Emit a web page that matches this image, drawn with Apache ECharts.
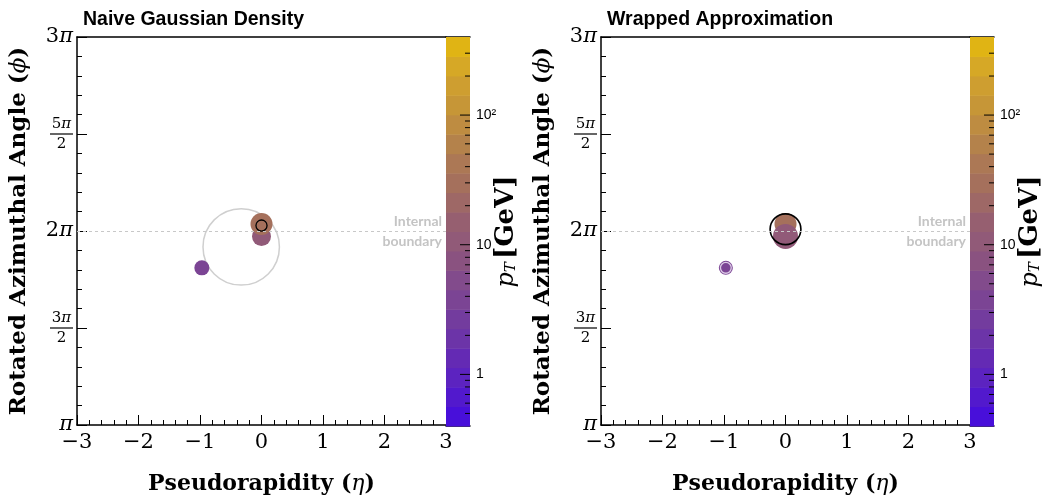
<!DOCTYPE html>
<html><head><meta charset="utf-8">
<script src="https://cdn.jsdelivr.net/npm/echarts@6/dist/echarts.min.js"></script>
<style>html,body{margin:0;padding:0;background:#fff}#c{width:1044px;height:500px}</style>
</head><body><div id="c"></div>
<script>
// ---------------- data ----------------
const panelTitles = ['Naive Gaussian Density', 'Wrapped Approximation'];
const etaRange = [-3, 3];
const phiRangeOverPi = [1, 3];            // axis range in units of pi
const particleEta = [-0.97, 0.0, 0.0];
const particlePhiOverPi = [1.81, 1.972, 2.036];
const particlePt = [3.8, 11, 30];          // GeV
const boundaryPhiOverPi = 2;
// naive Gaussian (left): wide grey circle and small black mean marker
const naiveCircle = [-0.33, 1.918, 0.62];  // eta, phi/pi, radius (eta units)
const naiveMean = [0.0, 2.028, 0.09];
// wrapped approximation (right)
const wrappedCircle = [0.0, 2.009, 0.25];
const colorbarRange = [0.4, 400];
const colorbarLevels = 20;
const colorbarMajorTicks = [1, 10, 100];
const colorbarTickLabels = ['1', '10', '10²'];

// ---------------- styles ----------------
const palette = ['#480fda','#5219cd','#5c23c0','#642ab4','#6c34a8','#733c9e','#7b4494','#824b8c','#8a5280','#915a78',
                 '#965f70','#9e6866','#a5705c','#ac7855','#b4824b','#be8c41','#c69637','#ce9e30','#d6a826','#e0b414'];
const SERIF = '"DejaVu Serif", serif';
const SANS = '"Liberation Sans", Arial, sans-serif';
const panels = [
  { left: 77, order: [0, 1, 2], radius: [7.5, 9.5, 11], halo: [false, false, false],
    under: [{ d: naiveCircle, color: '#cfcfcf', w: 1.5 }], over: [{ d: naiveMean, color: '#000', w: 1.3 }] },
  { left: 601, order: [0, 2, 1], radius: [7, 12.5, 11], halo: [true, false, false],
    under: [], over: [{ d: wrappedCircle, color: '#000', w: 1.6 }] }
];
const GRID_TOP = 37, GRID_H = 389, GRID_W = 369, CB_W = 24;

const logMin = Math.log10(colorbarRange[0]), logMax = Math.log10(colorbarRange[1]);
const step = (logMax - logMin) / colorbarLevels;
function ptColor(pt) {
  let k = Math.floor((Math.log10(pt) - logMin) / step);
  k = Math.max(0, Math.min(colorbarLevels - 1, k));
  return palette[k];
}
function phiLabel(v) {
  const k = Math.round(v * 2);
  if (k % 2 === 0) { const n = k / 2; return n === 1 ? '{pi|π}' : '{num|' + n + '}{pi|π}'; }
  return '{fn|' + k + '}{fpi|π}\n{bar| }\n{fd|2}';
}
const phiRich = {
  num: { fontFamily: SERIF, fontSize: 21, color: '#000' },
  pi: { fontFamily: SERIF, fontSize: 21, fontStyle: 'italic', color: '#000' },
  fn: { fontFamily: SERIF, fontSize: 15, lineHeight: 16, color: '#000', align: 'center' },
  fpi: { fontFamily: SERIF, fontSize: 15, lineHeight: 16, fontStyle: 'italic', color: '#000', align: 'center' },
  bar: { width: 23, height: 1.2, lineHeight: 4, fontSize: 1, backgroundColor: '#000', align: 'center' },
  fd: { fontFamily: SERIF, fontSize: 15, lineHeight: 16, color: '#000', align: 'center' }
};

const grids = [], xAxes = [], yAxes = [], series = [], titles = [];
const bands = [];
for (let i = 0; i < colorbarLevels; i++) bands.push([logMin + i * step, logMin + (i + 1) * step, i]);
const cbTicks = [];
colorbarMajorTicks.forEach(t => cbTicks.push([Math.log10(t), 10]));
for (let n = -1; n <= 2; n++) for (let k = 2; k <= 9; k++) {
  const v = k * Math.pow(10, n);
  if (v > colorbarRange[0] && v < colorbarRange[1]) cbTicks.push([Math.log10(v), 5]);
}

function circleSeries(items, xi, yi, z) {
  return {
    type: 'custom', xAxisIndex: xi, yAxisIndex: yi, z: z, silent: true,
    data: items.map(o => o.d),
    renderItem: (params, api) => {
      const o = items[params.dataIndex];
      const c = api.coord([api.value(0), api.value(1)]);
      const rx = api.size([api.value(2), 0])[0];
      const ry = api.size([0, api.value(2) / Math.PI])[1];
      return { type: 'circle', shape: { cx: c[0], cy: c[1], r: (rx + ry) / 2 },
               style: { fill: null, stroke: o.color, lineWidth: o.w } };
    }
  };
}
const boundaryLabel = { show: true, distance: [4, 3], fontFamily: 'Lato, ' + SANS, fontWeight: 'bold', fontSize: 14, color: '#c4c4c4' };

panels.forEach((p, i) => {
  const gx = 2 * i, xb = 4 * i, yb = 2 * i;
  grids.push({ left: p.left, top: GRID_TOP, width: GRID_W, height: GRID_H, containLabel: false });
  grids.push({ left: p.left + GRID_W, top: GRID_TOP, width: CB_W, height: GRID_H, containLabel: false });
  titles.push({ text: panelTitles[i], left: p.left + 1, top: 5,
    textStyle: { fontFamily: SANS, fontWeight: 'bold', fontSize: 19.5, color: '#000' } });
  xAxes.push({
    gridIndex: gx, type: 'value', min: etaRange[0], max: etaRange[1], interval: 1,
    name: 'Pseudorapidity ({it|η})', nameLocation: 'middle', nameGap: 48,
    nameTextStyle: { fontFamily: SERIF, fontWeight: 'bold', fontSize: 22, color: '#000',
      rich: { it: { fontFamily: SERIF, fontStyle: 'italic', fontWeight: 'normal', fontSize: 22, color: '#000' } } },
    axisLine: { show: true, onZero: false, lineStyle: { color: '#000', width: 1.5 } },
    axisTick: { show: true, inside: true, length: 10, lineStyle: { color: '#000', width: 1 } },
    minorTick: { show: true, splitNumber: 5, length: 5, lineStyle: { color: '#000', width: 1 } },
    splitLine: { show: false }, minorSplitLine: { show: false },
    axisLabel: { margin: 7, fontFamily: SERIF, fontSize: 21, color: '#000',
      formatter: v => (v < 0 ? '−' : '') + Math.abs(v) }
  });
  xAxes.push({ gridIndex: gx, type: 'value', min: etaRange[0], max: etaRange[1], position: 'top',
    axisLine: { show: true, onZero: false, lineStyle: { color: '#000', width: 1.5 } },
    axisTick: { show: false }, axisLabel: { show: false }, splitLine: { show: false } });
  xAxes.push({ gridIndex: gx + 1, type: 'value', min: 0, max: 1, position: 'bottom',
    axisLine: { show: true, onZero: false, lineStyle: { color: '#000', width: 1.5 } },
    axisTick: { show: false }, axisLabel: { show: false }, splitLine: { show: false } });
  xAxes.push({ gridIndex: gx + 1, type: 'value', min: 0, max: 1, position: 'top',
    axisLine: { show: true, onZero: false, lineStyle: { color: '#000', width: 1.5 } },
    axisTick: { show: false }, axisLabel: { show: false }, splitLine: { show: false } });
  yAxes.push({
    gridIndex: gx, type: 'value', min: phiRangeOverPi[0], max: phiRangeOverPi[1], interval: 0.5,
    name: 'Rotated Azimuthal Angle ({it|ϕ})', nameLocation: 'middle', nameGap: 46, nameRotate: 90,
    nameTextStyle: { fontFamily: SERIF, fontWeight: 'bold', fontSize: 23, color: '#000',
      rich: { it: { fontFamily: SERIF, fontStyle: 'italic', fontWeight: 'normal', fontSize: 23, color: '#000' } } },
    axisLine: { show: true, onZero: false, lineStyle: { color: '#000', width: 1.5 } },
    axisTick: { show: true, inside: true, length: 10, lineStyle: { color: '#000', width: 1 } },
    minorTick: { show: true, splitNumber: 5, length: 5, lineStyle: { color: '#000', width: 1 } },
    splitLine: { show: false }, minorSplitLine: { show: false },
    axisLabel: { margin: 4, formatter: phiLabel, rich: phiRich }
  });
  yAxes.push({
    gridIndex: gx + 1, type: 'value', min: logMin, max: logMax, position: 'right',
    name: '{p|p}{t|T} {g|[GeV]}', nameLocation: 'middle', nameGap: 21, nameRotate: 90, nameMoveOverlap: false,
    nameTextStyle: { rich: {
      p: { fontFamily: SERIF, fontStyle: 'italic', fontSize: 24, color: '#000', lineHeight: 28, verticalAlign: 'bottom' },
      t: { fontFamily: SERIF, fontStyle: 'italic', fontSize: 15, color: '#000', lineHeight: 16, padding: [13, 0, 0, 0], verticalAlign: 'bottom' },
      g: { fontFamily: SERIF, fontWeight: 'bold', fontSize: 26, color: '#000', lineHeight: 28, verticalAlign: 'bottom' } } },
    axisLine: { show: false }, axisTick: { show: false }, splitLine: { show: false },
    axisLabel: { margin: 6, fontFamily: SANS, fontSize: 14, color: '#000', showMinLabel: false, showMaxLabel: false,
      formatter: v => { const j = colorbarMajorTicks.findIndex(t => Math.abs(Math.log10(t) - v) < 1e-6); return j >= 0 ? colorbarTickLabels[j] : ''; } }
  });

  // colorbar bands
  series.push({ type: 'custom', xAxisIndex: xb + 2, yAxisIndex: yb + 1, silent: true, data: bands,
    renderItem: (params, api) => {
      const a = api.coord([0, api.value(1)]), b = api.coord([1, api.value(0)]);
      return { type: 'rect', shape: { x: a[0], y: a[1], width: b[0] - a[0], height: b[1] - a[1] + 0.5 },
               style: { fill: palette[api.value(2)] } };
    } });
  // colorbar ticks
  series.push({ type: 'custom', xAxisIndex: xb + 2, yAxisIndex: yb + 1, silent: true, z: 3, data: cbTicks,
    renderItem: (params, api) => {
      const c = api.coord([1, api.value(0)]);
      return { type: 'line', shape: { x1: c[0], y1: c[1], x2: c[0] - api.value(1), y2: c[1] },
               style: { stroke: '#000', lineWidth: 1 } };
    } });
  // internal boundary
  series.push({ type: 'line', xAxisIndex: xb, yAxisIndex: yb, data: [], silent: true,
    markLine: { silent: true, symbol: ['none', 'none'],
      lineStyle: { color: '#c8c8c8', type: [3, 3], width: 1 },
      data: [
        { yAxis: boundaryPhiOverPi, label: Object.assign({ formatter: 'Internal', position: 'insideEndTop' }, boundaryLabel) },
        { yAxis: boundaryPhiOverPi, lineStyle: { color: 'rgba(0,0,0,0)', width: 0 },
          label: Object.assign({ formatter: 'boundary', position: 'insideEndBottom' }, boundaryLabel) }
      ] } });
  if (p.under.length) series.push(circleSeries(p.under, xb, yb, 2));
  // particles
  series.push({ type: 'custom', xAxisIndex: xb, yAxisIndex: yb, z: 3, silent: true,
    data: p.order.map(k => [particleEta[k], particlePhiOverPi[k], particlePt[k], k]),
    renderItem: (params, api) => {
      const k = api.value(3);
      const c = api.coord([api.value(0), api.value(1)]);
      const col = ptColor(api.value(2));
      const r = p.radius[k];
      if (p.halo[k]) {
        return { type: 'group', children: [
          { type: 'circle', shape: { cx: c[0], cy: c[1], r: r }, style: { fill: col } },
          { type: 'circle', shape: { cx: c[0], cy: c[1], r: r - 1.6 }, style: { fill: col, stroke: '#dccbe6', lineWidth: 1.3 } }
        ] };
      }
      return { type: 'circle', shape: { cx: c[0], cy: c[1], r: r }, style: { fill: col } };
    } });
  series.push(circleSeries(p.over, xb, yb, 4));
});

const chart = echarts.init(document.getElementById('c'), null, { renderer: 'canvas' });
chart.setOption({ animation: false, backgroundColor: '#fff', title: titles, grid: grids, xAxis: xAxes, yAxis: yAxes, series: series });
</script></body></html>
